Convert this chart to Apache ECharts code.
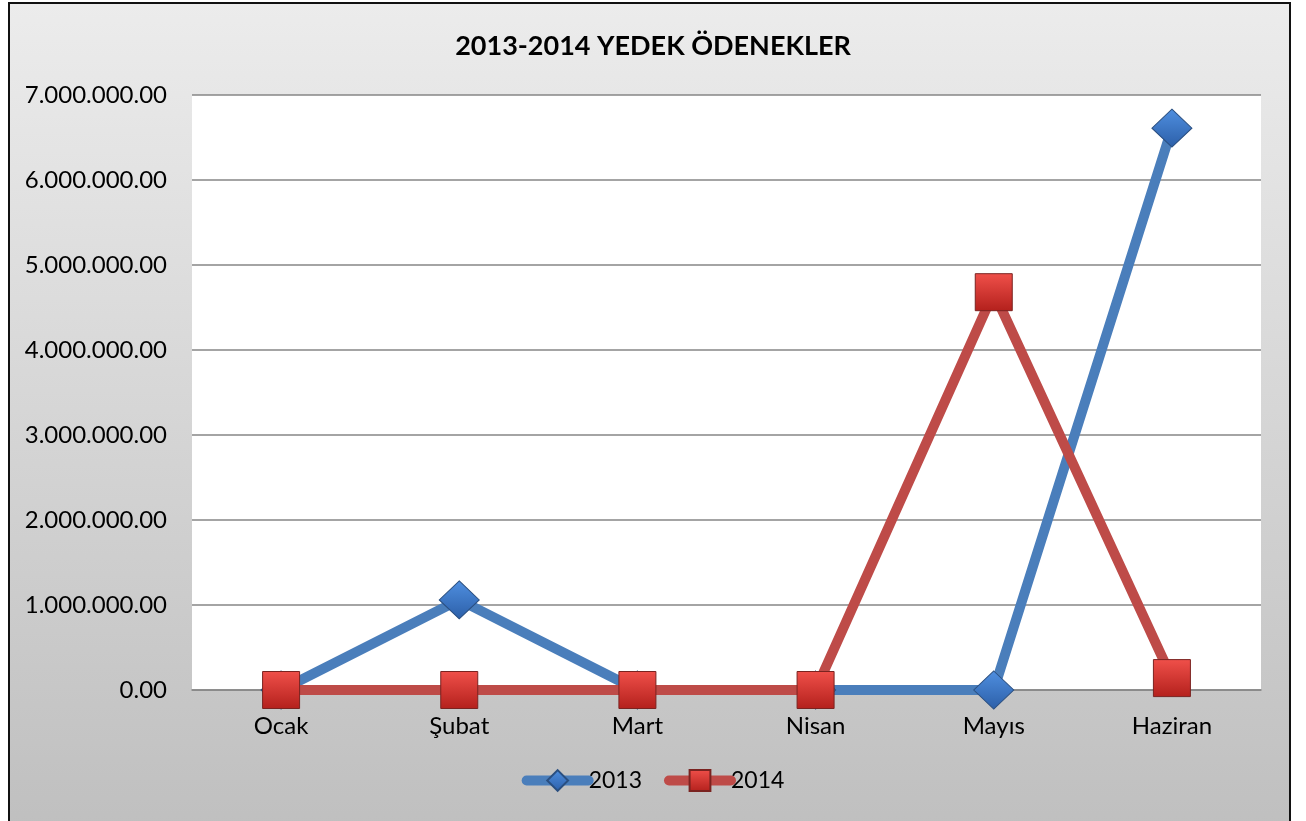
<!DOCTYPE html>
<html>
<head>
<meta charset="utf-8">
<script src="https://cdn.jsdelivr.net/npm/echarts@6/dist/echarts.min.js"></script>
<style>
  html, body { margin: 0; padding: 0; background: #fff; }
  #main { width: 1306px; height: 821px; }
</style>
</head>
<body>
<div id="main"></div>
<script>
const months = ['Ocak', 'Şubat', 'Mart', 'Nisan', 'Mayıs', 'Haziran'];
const values2013 = [0, 1060000, 0, 0, 0, 6610000];
const values2014 = [0, 0, 0, 0, 4680000, 140000];

const font = 'Lato, "Open Sans", sans-serif';

// 7.000.000.00 style labels
function fmt(v) {
  return String(Math.round(v)).replace(/\B(?=(\d{3})+(?!\d))/g, '.') + '.00';
}

const blueMarker = {
  type: 'linear', x: 0, y: 0, x2: 0, y2: 1,
  colorStops: [{ offset: 0, color: '#4f8fe0' }, { offset: 1, color: '#2c5fa8' }]
};
const redMarker = {
  type: 'linear', x: 0, y: 0, x2: 0, y2: 1,
  colorStops: [{ offset: 0, color: '#f0504a' }, { offset: 1, color: '#b3201c' }]
};

const chart = echarts.init(document.getElementById('main'));
chart.setOption({
  backgroundColor: '#fff',
  animation: false,
  graphic: [{
    type: 'rect',
    z: -10,
    shape: { x: 9, y: 3, width: 1281, height: 830 },
    style: {
      fill: {
        type: 'linear', x: 0, y: 0, x2: 0, y2: 1,
        colorStops: [{ offset: 0, color: '#ececec' }, { offset: 1, color: '#bfbfbf' }]
      },
      stroke: '#111',
      lineWidth: 2
    }
  }],
  title: {
    text: '2013-2014 YEDEK ÖDENEKLER',
    left: 'center',
    top: 28,
    textStyle: { fontFamily: font, fontWeight: 'bold', fontSize: 27, color: '#000' }
  },
  grid: {
    left: 192, right: 45, top: 95, bottom: 131,
    show: true, backgroundColor: '#fff', borderWidth: 0
  },
  legend: {
    bottom: 24,
    left: 'center',
    itemWidth: 62,
    itemHeight: 26,
    itemGap: 22,
    lineStyle: { width: 10, cap: 'round' },
    textStyle: { fontFamily: font, fontSize: 23, color: '#000', padding: [0, 0, 0, -5] },
    data: ['2013', '2014']
  },
  xAxis: {
    type: 'category',
    data: months,
    boundaryGap: true,
    axisLine: { lineStyle: { color: '#868686', width: 1.5 } },
    axisTick: { show: false },
    axisLabel: { fontFamily: font, fontSize: 24, color: '#000', margin: 24 }
  },
  yAxis: {
    type: 'value',
    min: 0,
    max: 7000000,
    interval: 1000000,
    axisLine: { show: false },
    axisTick: { show: false },
    splitLine: { lineStyle: { color: '#868686', width: 1.5 } },
    axisLabel: { fontFamily: font, fontSize: 24, color: '#000', margin: 25, formatter: fmt }
  },
  series: [
    {
      name: '2013',
      type: 'line',
      data: values2013,
      symbol: 'diamond',
      symbolSize: [40, 38],
      lineStyle: { color: '#4a7ebb', width: 10 },
      itemStyle: { color: blueMarker, borderColor: '#2a4f80', borderWidth: 1 },
      z: 2
    },
    {
      name: '2014',
      type: 'line',
      data: values2014,
      symbol: 'rect',
      symbolSize: 37,
      lineStyle: { color: '#be4b48', width: 10 },
      itemStyle: { color: redMarker, borderColor: '#7a2320', borderWidth: 1 },
      z: 3
    }
  ]
});
</script>
</body>
</html>
